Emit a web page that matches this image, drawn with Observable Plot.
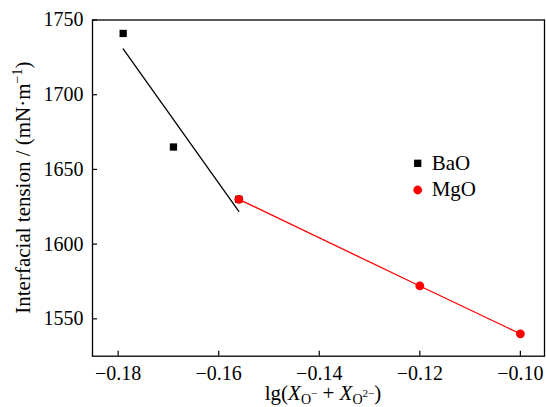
<!DOCTYPE html>
<html><head><meta charset="utf-8">
<script src="https://cdn.jsdelivr.net/npm/d3@7"></script>
<script src="https://cdn.jsdelivr.net/npm/@observablehq/plot@0.6"></script>
<style>html,body{margin:0;padding:0;background:#fff;} #chart svg{display:block;} #chart svg text{font-family:"Liberation Serif","Times New Roman",serif !important;}</style>
</head><body><div id="chart"></div>
<script>
const baoX = [-0.179, -0.169, -0.156];
const baoY = [1741, 1665, 1630];
const mgoX = [-0.156, -0.12, -0.10];
const mgoY = [1630, 1572, 1540];
const seriesNames = ["BaO", "MgO"];
const seriesColors = ["black", "red"];
const seriesSymbols = ["square", "circle"];
const xTicks = [-0.18, -0.16, -0.14, -0.12, -0.10];
const yTicks = [1550, 1600, 1650, 1700, 1750];
const xDomain = [-0.1851, -0.0952];
const yDomain = [1525, 1750];

const bao = baoX.map((x, i) => ({x, y: baoY[i]}));
const mgo = mgoX.map((x, i) => ({x, y: mgoY[i]}));

const W = 546, H = 407, mL = 92, mR = 2, mT = 19.5, mB = 51.3;
const font = "Liberation Serif, Times New Roman, serif";
const chart = Plot.plot({
  width: W, height: H, marginLeft: mL, marginRight: mR, marginTop: mT, marginBottom: mB,
  style: {fontFamily: font, fontSize: "20px", color: "black", background: "white"},
  x: {domain: xDomain},
  y: {domain: yDomain},
  marks: [
    Plot.axisX({ticks: xTicks, tickSize: 5, dy: -5, tickFormat: () => "", label: null, strokeWidth: 1.2}),
    Plot.axisX({ticks: xTicks, tickSize: 0, tickPadding: 10, tickFormat: d3.format(".2f"), label: null, fontSize: 20, fontFamily: font, fill: "black"}),
    Plot.axisY({ticks: yTicks, tickSize: 5, dx: 5, tickFormat: () => "", label: null, strokeWidth: 1.2}),
    Plot.axisY({ticks: yTicks, tickSize: 0, tickPadding: 9, tickFormat: d3.format("d"), label: null, fontSize: 20, fontFamily: font, fill: "black"}),
    Plot.linearRegressionY(bao, {x: "x", y: "y", stroke: seriesColors[0], strokeWidth: 1.3, ci: 0}),
    Plot.dot(bao, {x: "x", y: "y", symbol: seriesSymbols[0], fill: seriesColors[0], r: 4.1}),
    Plot.line(mgo, {x: "x", y: "y", stroke: seriesColors[1], strokeWidth: 1.3}),
    Plot.dot(mgo, {x: "x", y: "y", symbol: seriesSymbols[1], fill: seriesColors[1], r: 4.4}),
    Plot.frame({stroke: "black", strokeWidth: 1.3})
  ]
});
document.getElementById("chart").appendChild(chart);

const svg = d3.select(chart);
svg.selectAll("text").style("font-family", font);
const frameCy = (mT + (H - mB)) / 2;

// Y axis label
const yl = svg.append("text")
  .attr("transform", `translate(29.5,${frameCy}) rotate(-90)`)
  .attr("text-anchor", "middle")
  .attr("font-family", font).attr("font-size", 21).attr("fill", "black");
yl.append("tspan").text("Interfacial tension / (mN·m");
yl.append("tspan").attr("font-size", 14).attr("dy", -8).text("−1");
yl.append("tspan").attr("dy", 8).text(")");

// X axis label
const xl = svg.append("text")
  .attr("x", 323).attr("y", 400)
  .attr("text-anchor", "middle")
  .attr("font-family", font).attr("font-size", 21).attr("fill", "black");
xl.append("tspan").text("lg(");
xl.append("tspan").attr("font-style", "italic").text("X");
xl.append("tspan").attr("font-size", 14).attr("dy", 4).text("O");
xl.append("tspan").attr("font-size", 11).attr("dy", -7).text("−");
xl.append("tspan").attr("dy", 3).text(" + ");
xl.append("tspan").attr("font-style", "italic").text("X");
xl.append("tspan").attr("font-size", 14).attr("dy", 4).text("O");
xl.append("tspan").attr("font-size", 11).attr("dy", -7).text("2−");
xl.append("tspan").attr("dy", 3).text(")");

// Legend
const lx = 417.7, ly0 = 163.3, lstep = 26.7;
seriesNames.forEach((name, i) => {
  const cy = ly0 + i * lstep;
  const sym = seriesSymbols[i] === "square" ? d3.symbolSquare : d3.symbolCircle;
  const size = seriesSymbols[i] === "square" ? 7.3 * 7.3 : Math.PI * 4.4 * 4.4;
  svg.append("path")
    .attr("transform", `translate(${lx},${cy})`)
    .attr("d", d3.symbol(sym, size)())
    .attr("fill", seriesColors[i]);
  svg.append("text")
    .attr("x", lx + 14).attr("y", cy + 6.2)
    .attr("text-anchor", "start")
    .attr("font-family", font).attr("font-size", 21).attr("fill", "black")
    .text(name);
});
</script>
</body></html>
